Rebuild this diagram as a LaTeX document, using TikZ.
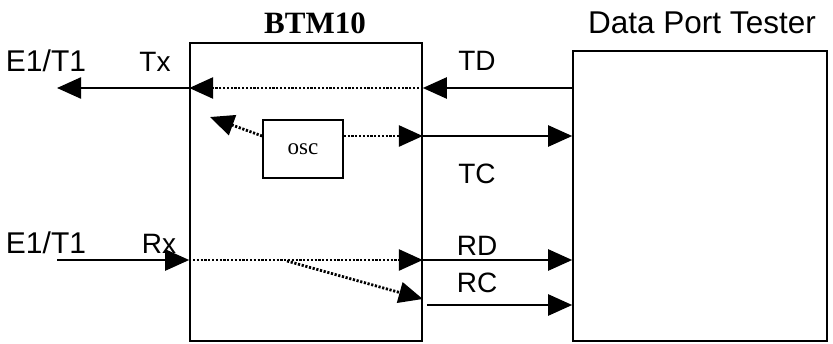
\documentclass[tikz,border=0pt]{standalone}
\usepackage{fontspec}
\setmainfont{Liberation Sans}
\newfontfamily\lserif{Liberation Serif}
\usetikzlibrary{arrows.meta}
\tikzset{
  lbl/.style={anchor=base, inner sep=0pt, font=\fontsize{28}{30}\selectfont},
  biglbl/.style={lbl, font=\fontsize{30}{32}\selectfont},
  boxnode/.style={draw, line width=1.6pt, inner sep=0pt},
  sarrow/.style={line width=2.4pt, -{Triangle[length=24pt,width=21pt]}},
  darrow/.style={line width=2.8pt, dash pattern=on 2.2pt off 1.6pt, -{Triangle[length=24pt,width=21pt]}},
}
\begin{document}
\begin{tikzpicture}[x=1pt,y=-1pt]
\useasboundingbox (0,0) rectangle (833,343);
% boxes
\node[boxnode, minimum width=232pt, minimum height=298pt] (btm) at (306,192) {};
\node[boxnode, minimum width=254pt, minimum height=290pt] (dpt) at (700,196) {};
\node[boxnode, minimum width=80pt, minimum height=58pt, font=\lserif\fontsize{23}{25}\selectfont] (osc) at (303,149) {osc};
% titles and labels
\node[lbl, font=\lserif\bfseries\fontsize{31}{33}\selectfont] (btmt) at (315,33) {BTM10};
\node[lbl, font=\fontsize{31.5}{33}\selectfont] (dptt) at (702,33) {Data Port Tester};
\node[biglbl] (e1a) at (46,71) {E1/T1};
\node[lbl] (tx) at (155,71) {Tx};
\node[lbl] (td) at (477,70) {TD};
\node[lbl] (tc) at (477,183) {TC};
\node[biglbl] (e1b) at (46,253) {E1/T1};
\node[lbl] (rx) at (159,253) {Rx};
\node[lbl] (rd) at (477,255) {RD};
\node[lbl] (rc) at (477,292) {RC};
% row coordinates
\coordinate (rowT) at (0,88);
\coordinate (rowC) at (0,136);
\coordinate (rowR) at (0,260);
\coordinate (rowD) at (0,299);
\coordinate (rowRC) at (0,305);
\coordinate (txend) at (57,88);
\coordinate (oscl) at (210,117);
\coordinate (rxstart) at (57,260);
\coordinate (split) at (287,261);
% connectors
\draw[sarrow] (btm.west |- rowT) -- (txend);
\draw[darrow] (btm.east |- rowT) -- (btm.west |- rowT);
\draw[sarrow] (dpt.west |- rowT) -- (btm.east |- rowT);
\draw[darrow] (osc.west |- rowC) -- (oscl);
\draw[darrow] (osc.east |- rowC) -- (btm.east |- rowC);
\draw[sarrow] (btm.east |- rowC) -- (dpt.west |- rowC);
\draw[sarrow] (rxstart) -- (btm.west |- rowR);
\draw[darrow] (btm.west |- rowR) -- (btm.east |- rowR);
\draw[sarrow] (btm.east |- rowR) -- (dpt.west |- rowR);
\draw[darrow] (split) -- (btm.east |- rowD);
\draw[sarrow] ([xshift=4pt]btm.east |- rowRC) -- (dpt.west |- rowRC);
\end{tikzpicture}
\end{document}
